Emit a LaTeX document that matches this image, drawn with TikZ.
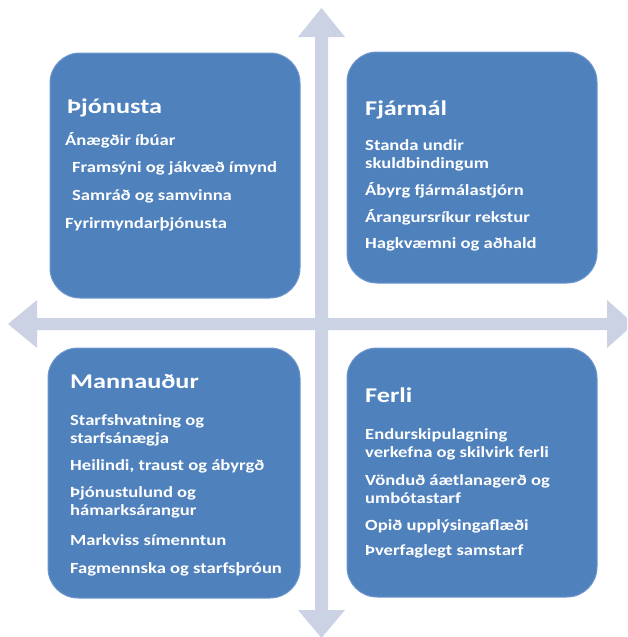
\documentclass[tikz,border=0pt]{standalone}
\usepackage{fontspec}
\setmainfont{Carlito}
\newfontfamily\ttlfont{Carlito}[FakeStretch=1.25]
\newfontfamily\itmfont{Carlito}[FakeStretch=1.2]
\definecolor{boxblue}{RGB}{79,129,189}
\definecolor{boxedge}{RGB}{110,150,205}
\definecolor{arrowgray}{RGB}{202,210,228}
\begin{document}
\begin{tikzpicture}[x=1pt,y=-1pt,
  quad/.style={draw=boxedge,line width=1pt,fill=boxblue,rounded corners=30pt},
  ttl/.style={anchor=base west,inner sep=0pt,text=white,font=\ttlfont\bfseries\fontsize{21}{25}\selectfont},
  itm/.style={anchor=base west,inner sep=0pt,text=white,font=\itmfont\bfseries\fontsize{15.5}{18}\selectfont,align=left}]
\useasboundingbox (0,0) rectangle (627,637);
\begin{scope}
\clip (0,0) rectangle (627,637);
% cross of arrows
\fill[arrowgray] (315,37) -- (298,37) -- (321.5,8) -- (345,37) -- (328,37) -- (328,318)
  -- (607,318) -- (607,300) -- (634,324) -- (607,348) -- (607,330) -- (328,330)
  -- (328,610) -- (345,610) -- (321.5,638) -- (298,610) -- (315,610) -- (315,330)
  -- (37,330) -- (37,348) -- (8,324) -- (37,300) -- (37,318) -- (315,318) -- cycle;
\end{scope}
% boxes
\draw[quad] (50,53) rectangle (300,298);
\draw[quad] (347,52) rectangle (597,283);
\draw[quad] (48,348) rectangle (300,598);
\draw[quad] (347,348) rectangle (597,597);
% TL
\node[ttl] (t1) at (67,113) {Þjónusta};
\node[itm] (a1) at (65,145) {Ánægðir íbúar};
\node[itm] (a2) at (72,172) {Framsýni og jákvæð ímynd};
\node[itm] (a3) at (72,200) {Samráð og samvinna};
\node[itm] (a4) at (65,228) {Fyrirmyndarþjónusta};
% TR
\node[ttl] (t2) at (365,115) {Fjármál};
\node[itm] (b1) at (365,168) {Standa undir\\skuldbindingum};
\node[itm] (b2) at (365,195) {Ábyrg fjármálastjórn};
\node[itm] (b3) at (365,222) {Árangursríkur rekstur};
\node[itm] (b4) at (365,248) {Hagkvæmni og aðhald};
% BL
\node[ttl] (t3) at (70,388) {Mannauður};
\node[itm] (c1) at (70,443) {Starfshvatning og\\starfsánægja};
\node[itm] (c2) at (70,470) {Heilindi, traust og ábyrgð};
\node[itm] (c3) at (70,515) {Þjónustulund og\\hámarksárangur};
\node[itm] (c4) at (70,545) {Markviss símenntun};
\node[itm] (c5) at (70,573) {Fagmennska og starfsþróun};
% BR
\node[ttl] (t4) at (365,402) {Ferli};
\node[itm] (d1) at (365,457) {Endurskipulagning\\verkefna og skilvirk ferli};
\node[itm] (d2) at (365,503) {Vönduð áætlanagerð og\\umbótastarf};
\node[itm] (d3) at (365,530) {Opið upplýsingaflæði};
\node[itm] (d4) at (365,555) {Þverfaglegt samstarf};
\end{tikzpicture}
\end{document}
